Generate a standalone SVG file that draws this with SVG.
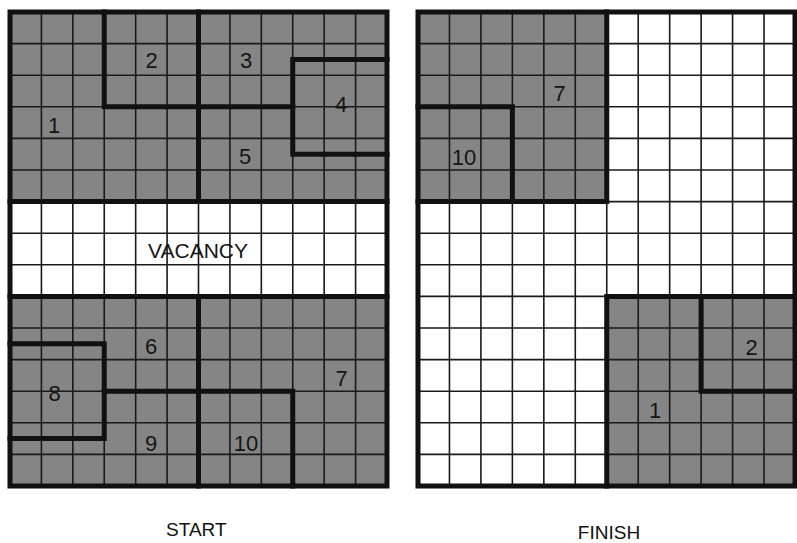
<svg xmlns="http://www.w3.org/2000/svg" width="797" height="543" viewBox="0 0 797 543">
<style>
.bg{fill:#ffffff}
.shade{fill:#858585}
.grid{fill:none;stroke:#1a1a1a;stroke-width:1.6}
.thick{fill:none;stroke:#111;stroke-width:5;stroke-linejoin:miter;stroke-linecap:square}
.num{font-family:"Liberation Sans",Arial,sans-serif;font-size:22px;fill:#151515;text-anchor:middle}
.cap{font-family:"Liberation Sans",Arial,sans-serif;font-size:19px;fill:#111;text-anchor:middle}
</style>
<rect class="bg" x="0" y="0" width="797" height="543"/>

<g id="start-panel">
  <rect class="shade" x="10" y="12" width="377" height="189.6"/>
  <rect class="shade" x="10" y="296.4" width="377" height="189.6"/>
  <path class="grid" d="M41.42,12V486M72.83,12V486M104.25,12V486M135.67,12V486M167.08,12V486M198.5,12V486M229.92,12V486M261.33,12V486M292.75,12V486M324.17,12V486M355.58,12V486
  M10,43.6H387M10,75.2H387M10,106.8H387M10,138.4H387M10,170H387M10,201.6H387M10,233.2H387M10,264.8H387M10,296.4H387M10,328H387M10,359.6H387M10,391.2H387M10,422.8H387M10,454.4H387"/>
  <g id="start-outlines">
    <rect class="thick" x="10" y="12" width="377" height="474"/>
    <path class="thick" d="M10,201.6H387M10,296.4H387"/>
    <path class="thick" d="M104.25,12V106.8H292.75"/>
    <path class="thick" d="M198.5,12V201.6"/>
    <path class="thick" d="M387,59.4H292.75V154.2H387"/>
    <path class="thick" d="M10,343.8H104.25V438.6H10"/>
    <path class="thick" d="M104.25,391.2H292.75V486"/>
    <path class="thick" d="M198.5,296.4V486"/>
  </g>
  <g id="start-1"><text class="num" x="54" y="132.5">1</text></g>
  <g id="start-2"><text class="num" x="151.5" y="68">2</text></g>
  <g id="start-3"><text class="num" x="246" y="67.5">3</text></g>
  <g id="start-4"><text class="num" x="341" y="111.5">4</text></g>
  <g id="start-5"><text class="num" x="245" y="164">5</text></g>
  <g id="start-vacancy"><text class="num" x="198" y="258.3" style="font-size:21px">VACANCY</text></g>
  <g id="start-6"><text class="num" x="151" y="354">6</text></g>
  <g id="start-7"><text class="num" x="341.7" y="386">7</text></g>
  <g id="start-8"><text class="num" x="54.5" y="401">8</text></g>
  <g id="start-9"><text class="num" x="151" y="450.7">9</text></g>
  <g id="start-10"><text class="num" x="246" y="450.7">10</text></g>
</g>

<g id="finish-panel">
  <rect class="shade" x="418" y="12" width="188.75" height="189.6"/>
  <rect class="shade" x="606.75" y="296.4" width="188.75" height="189.6"/>
  <path class="grid" d="M449.46,12V486M480.92,12V486M512.38,12V486M543.83,12V486M575.29,12V486M606.75,12V486M638.21,12V486M669.67,12V486M701.13,12V486M732.58,12V486M764.04,12V486
  M418,43.6H795.5M418,75.2H795.5M418,106.8H795.5M418,138.4H795.5M418,170H795.5M418,201.6H795.5M418,233.2H795.5M418,264.8H795.5M418,296.4H795.5M418,328H795.5M418,359.6H795.5M418,391.2H795.5M418,422.8H795.5M418,454.4H795.5"/>
  <g id="finish-outlines">
    <rect class="thick" x="418" y="12" width="377" height="474"/>
    <path class="thick" d="M418,201.6H606.75V12"/>
    <path class="thick" d="M418,106.8H512.38V201.6"/>
    <path class="thick" d="M606.75,486V296.4H795"/>
    <path class="thick" d="M701.13,296.4V391.2H795"/>
  </g>
  <g id="finish-7"><text class="num" x="559.5" y="101">7</text></g>
  <g id="finish-10"><text class="num" x="464" y="165">10</text></g>
  <g id="finish-2"><text class="num" x="751.7" y="355">2</text></g>
  <g id="finish-1"><text class="num" x="655" y="418">1</text></g>
</g>

<g id="captions">
  <text class="cap" x="196.3" y="536">START</text>
  <text class="cap" x="609" y="538.5">FINISH</text>
</g>
</svg>
